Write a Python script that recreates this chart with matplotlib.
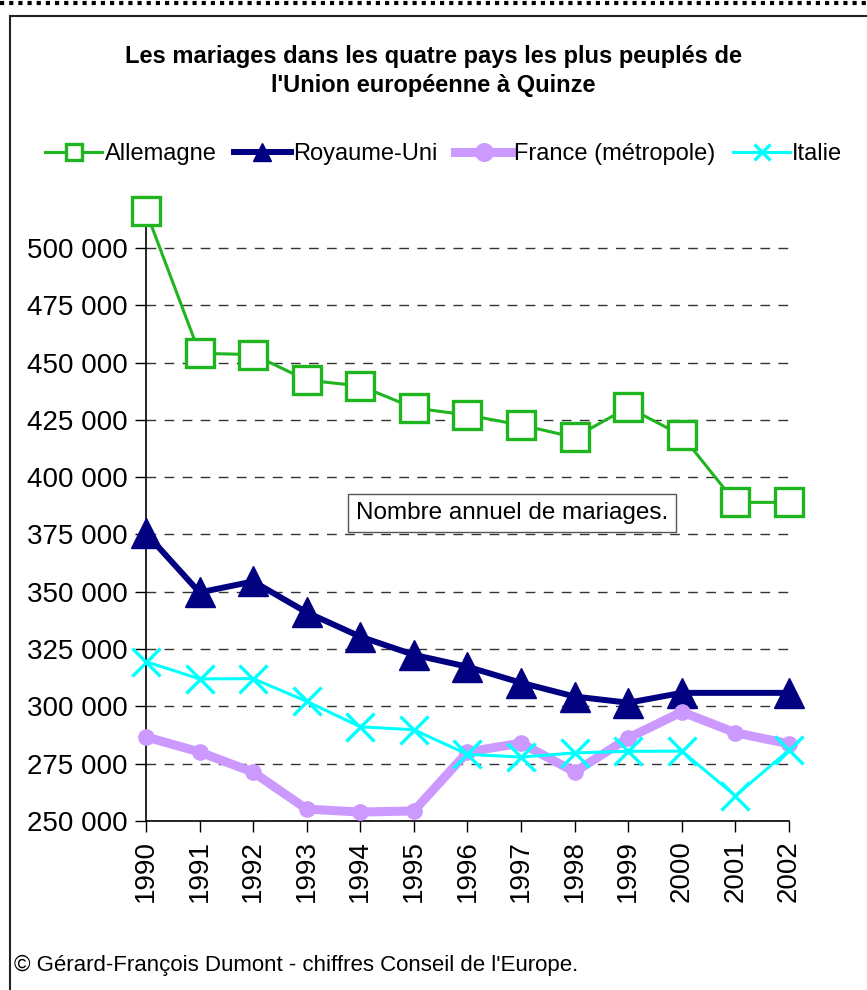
import numpy as np
import matplotlib.pyplot as plt
from matplotlib.patches import Rectangle
from matplotlib.lines import Line2D
from matplotlib.ticker import FuncFormatter, MultipleLocator

plt.rcParams['font.family'] = ['Liberation Sans', 'DejaVu Sans']

annees = list(range(1990, 2003))

# nombre annuel de mariages par pays
allemagne = [516000, 454000, 453500, 442300, 439800, 430200, 427100, 422700, 417400, 430400, 418200, 389000, 389000]
royaume_uni = [375500, 349700, 354500, 341000, 330400, 322500, 317300, 310300, 304300, 301600, 305900, np.nan, 305900]
france = [286700, 280100, 271300, 255200, 253900, 254400, 280100, 284000, 271400, 286200, 297600, 288500, 283700]
italie = [319500, 312000, 312100, 302200, 291100, 289800, 279100, 277900, 279700, 280400, 280500, 261000, 280900]

series = [
    ('Allemagne', allemagne, dict(color='#1fb51f', lw=2.2, marker='s', ms=20, mfc='white', mec='#1fb51f', mew=2.4), 0.55),
    ('Royaume-Uni', royaume_uni, dict(color='#000080', lw=4.3, marker='^', ms=21, mfc='#000080', mec='#000080'), 0.65),
    ('France (métropole)', france, dict(color='#cc99ff', lw=6.5, marker='o', ms=11, mfc='#cc99ff', mec='#cc99ff'), 1.15),
    ('Italie', italie, dict(color='#00ffff', lw=2.2, marker='x', ms=20, mew=2.4), 0.6),
]

fig = plt.figure(figsize=(8.67, 9.9), dpi=100)
ax = fig.add_axes([0.1684, 0.1707, 0.7416, 0.6055])

handles = []
for nom, vals, style, echelle in series:
    y = np.array(vals, dtype=float)
    ok = ~np.isnan(y)
    ax.plot(np.array(annees)[ok], y[ok], clip_on=False, zorder=3, **style)
    lh = dict(style)
    lh['ms'] = style['ms'] * echelle
    handles.append(Line2D([], [], label=nom, **lh))

ax.set_xlim(1990, 2002)
ax.set_ylim(250000, 511500)
ax.set_xticks(annees)
ax.set_xticklabels([str(a) for a in annees], rotation=90)
ax.yaxis.set_major_locator(MultipleLocator(25000))
ax.yaxis.set_major_formatter(FuncFormatter(lambda v, p: f'{int(v):,}'.replace(',', ' ')))
ax.tick_params(axis='both', labelsize=20, direction='out', length=8, width=1, colors='black')
ax.tick_params(axis='x', pad=6)
ax.tick_params(axis='y', pad=5)
ax.grid(axis='y', color='#333333', linestyle=(0, (7, 6)), lw=1)
ax.set_axisbelow(True)
for s in ['top', 'right']:
    ax.spines[s].set_visible(False)
for s in ['left', 'bottom']:
    ax.spines[s].set_linewidth(1.2)

fig.text(0.5, 0.928, "Les mariages dans les quatre pays les plus peuplés de\nl'Union européenne à Quinze",
         ha='center', va='center', fontsize=17, fontweight='bold', linespacing=1.35)

fig.legend(handles=handles, loc='center', bbox_to_anchor=(0.512, 0.844), ncol=4, frameon=False,
           fontsize=17, handlelength=2.4, handletextpad=0.1, columnspacing=0.75)

fig.text(0.5905, 0.482, 'Nombre annuel de mariages.', ha='center', va='center', fontsize=17.5,
         bbox=dict(boxstyle='square,pad=0.32', fc='white', ec='#555555', lw=1))

fig.text(0.016, 0.0245, "© Gérard-François Dumont - chiffres Conseil de l'Europe.", ha='left', va='center', fontsize=16)

# cadre du graphique et pointillés en haut de page
fig.patches.append(Rectangle((0.0115, -0.05), 1.1, 1.034, transform=fig.transFigure,
                             fill=False, ec='#222222', lw=1.5))
fig.lines.append(Line2D([0.0, 1.0], [0.9965, 0.9965], transform=fig.transFigure,
                        color='black', lw=3, linestyle=(0, (1, 1.2))))

fig.savefig('out.png', dpi=100, facecolor='white')
